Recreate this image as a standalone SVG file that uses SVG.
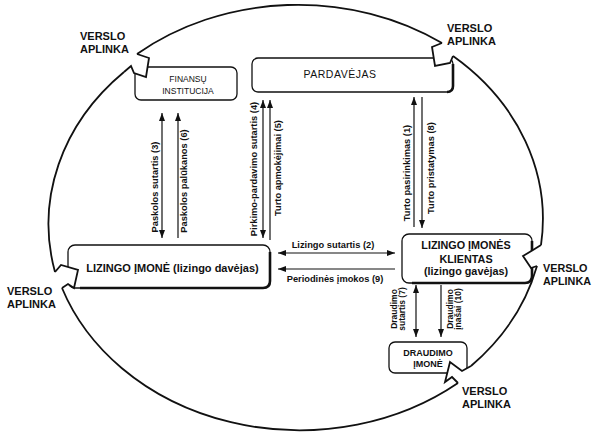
<svg xmlns="http://www.w3.org/2000/svg" width="594" height="434" viewBox="0 0 594 434">
<style>
.env{fill:none;stroke:#111;stroke-width:1.8;stroke-linejoin:miter}
.boltfill{fill:#fff;stroke:none}
.box{fill:#fff;stroke:#111;stroke-width:1.3}
.shadow{fill:none;stroke:#111;stroke-width:2.6}
.conn{stroke:#111;stroke-width:1.2;fill:none}
text{font-family:"Liberation Sans",Arial,sans-serif;fill:#111}
.env-t{font-size:11px;font-weight:bold}
.bt{font-size:11px;font-weight:bold;text-anchor:middle}
.bs{font-size:8.5px;text-anchor:middle}
.lbl{font-size:9.3px;font-weight:bold;text-anchor:middle}
.lbs{font-size:8.5px;font-weight:bold;text-anchor:middle}
</style>
<defs>
<marker id="ah" viewBox="0 0 8 6" refX="8" refY="3" markerWidth="8" markerHeight="6" markerUnits="userSpaceOnUse" orient="auto-start-reverse">
<path d="M0,0 L8,3 L0,6 z" fill="#111"/>
</marker>
</defs>
<rect width="594" height="434" fill="#fff"/>

<g id="finansu-institucija">
<rect class="box" x="135" y="67" width="102" height="33" rx="6"/>
<text class="bs" x="188" y="82">FINANSŲ</text>
<text class="bs" x="188" y="94">INSTITUCIJA</text>
</g>

<g id="pardavejas">
<rect class="box" x="252" y="58" width="201" height="34" rx="6"/>
<path class="shadow" d="M453,64 V86 Q453,92 447,92" stroke-width="2"/>
<text x="340" y="78" style="font-size:10.5px;text-anchor:middle;letter-spacing:0.5px">PARDAVĖJAS</text>
</g>

<g id="lizingo-imone">
<rect class="box" x="68" y="245" width="202" height="43" rx="7"/>
<path class="shadow" d="M270,252 V281 Q270,288 263,288 H80"/>
<text class="bt" x="172.5" y="272">LIZINGO ĮMONĖ (lizingo davėjas)</text>
</g>

<g id="lizingo-imones-klientas">
<rect class="box" x="402" y="234" width="130" height="49" rx="7"/>
<path class="shadow" d="M532,241 V276 Q532,283 525,283 H412"/>
<text class="bt" x="466" y="249" style="font-size:10.8px">LIZINGO ĮMONĖS</text>
<text class="bt" x="466" y="263" style="font-size:10.8px">KLIENTAS</text>
<text class="bt" x="466" y="275" style="font-size:10.8px">(lizingo gavėjas)</text>
</g>

<g id="draudimo-imone">
<rect class="box" x="389" y="342" width="78" height="31" rx="6"/>
<text class="bt" x="428" y="356" style="font-size:9px">DRAUDIMO</text>
<text class="bt" x="428" y="367" style="font-size:9px">ĮMONĖ</text>
</g>

<g id="verslo-aplinka">
<path class="env" d="M137,54 A252,213 0 0 1 442,43"/>
<path class="env" d="M453,56 A252,213 0 0 1 541,245"/>
<path class="env" d="M537,266 A252,213 0 0 1 471,366"/>
<path class="env" d="M458,383 A252,213 0 0 1 62,288"/>
<path class="env" d="M55,272 A252,213 0 0 1 124,72"/>
<polygon class="boltfill" points="124,72 131,66 134,73 146,77 149,58 137,54"/>
<polyline class="env" points="124,72 131,66 134,73 146,77 149,58 137,54"/>
<polygon class="boltfill" points="442,43 432,47 435,66 450,63 453,56"/>
<polyline class="env" points="442,43 432,47 435,66 450,63 453,56"/>
<polygon class="boltfill" points="541,245 533,250 523,256 531,268 537,266"/>
<polyline class="env" points="541,245 533,250 523,256 531,268 537,266"/>
<polygon class="boltfill" points="471,366 462,371 450,362 445,382 452,377 458,383"/>
<polyline class="env" points="471,366 462,371 450,362 445,382 452,377 458,383"/>
<polygon class="boltfill" points="62,288 68,284 74,288 78,270 61,265 55,272"/>
<polyline class="env" points="62,288 68,284 74,288 78,270 61,265 55,272"/>
<text class="env-t" x="80" y="40">VERSLO</text>
<text class="env-t" x="80" y="53">APLINKA</text>
<text class="env-t" x="447" y="32">VERSLO</text>
<text class="env-t" x="447" y="45">APLINKA</text>
<text class="env-t" x="7" y="295">VERSLO</text>
<text class="env-t" x="7" y="308">APLINKA</text>
<text class="env-t" x="543" y="272" style="font-size:10.8px">VERSLO</text>
<text class="env-t" x="543" y="285" style="font-size:10.8px">APLINKA</text>
<text class="env-t" x="462" y="395">VERSLO</text>
<text class="env-t" x="462" y="408">APLINKA</text>
</g>

<g id="connectors">
<line class="conn" x1="162" y1="113" x2="162" y2="238" marker-start="url(#ah)" marker-end="url(#ah)"/>
<line class="conn" x1="178" y1="238" x2="178" y2="113" marker-end="url(#ah)"/>
<line class="conn" x1="263" y1="100" x2="263" y2="238" marker-start="url(#ah)" marker-end="url(#ah)"/>
<line class="conn" x1="270" y1="240" x2="270" y2="100" marker-end="url(#ah)"/>
<line class="conn" x1="414" y1="227" x2="414" y2="97" marker-end="url(#ah)"/>
<line class="conn" x1="422" y1="97" x2="422" y2="228" marker-end="url(#ah)"/>
<line class="conn" x1="278" y1="253" x2="395" y2="253" marker-start="url(#ah)" marker-end="url(#ah)"/>
<line class="conn" x1="395" y1="269" x2="278" y2="269" marker-end="url(#ah)"/>
<line class="conn" x1="416" y1="285" x2="416" y2="337" marker-start="url(#ah)" marker-end="url(#ah)"/>
<line class="conn" x1="441" y1="285" x2="441" y2="337" marker-end="url(#ah)"/>
<text class="lbl" transform="translate(158,187) rotate(-90)">Paskolos sutartis (3)</text>
<text class="lbl" transform="translate(187,181) rotate(-90)">Paskolos palūkanos (6)</text>
<text class="lbl" transform="translate(257,169) rotate(-90)">Pirkimo-pardavimo sutartis (4)</text>
<text class="lbl" transform="translate(281,168) rotate(-90)">Turto apmokėjimai (5)</text>
<text class="lbl" transform="translate(410,173) rotate(-90)">Turto pasirinkimas (1)</text>
<text class="lbl" transform="translate(434,168) rotate(-90)">Turto pristatymas (8)</text>
<text class="lbl" x="333" y="248">Lizingo sutartis (2)</text>
<text class="lbl" x="335" y="282">Periodinės įmokos (9)</text>
<text class="lbs" transform="translate(397,309) rotate(-90)">Draudimo</text>
<text class="lbs" transform="translate(405,309) rotate(-90)">sutartis (7)</text>
<text class="lbs" transform="translate(453,309) rotate(-90)">Draudimo</text>
<text class="lbs" transform="translate(461,309) rotate(-90)">įnašai (10)</text>
</g>
</svg>
